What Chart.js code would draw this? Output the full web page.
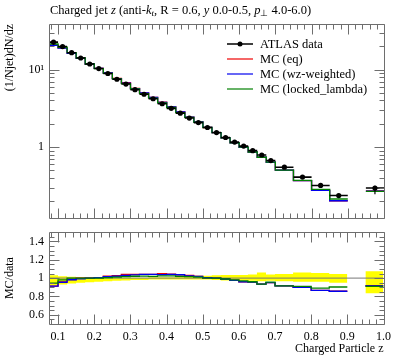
<!DOCTYPE html>
<html>
<head>
<meta charset="utf-8">
<script src="https://cdn.jsdelivr.net/npm/chart.js@4.4.0/dist/chart.umd.min.js"></script>
<style>
html, body { margin: 0; padding: 0; background: #fff; }
#wrap { position: relative; width: 397px; height: 358px; overflow: hidden; font-family: "Liberation Serif", serif; }
#top { position: absolute; left: 0; top: 0; }
#bot { position: absolute; left: 0; top: 220px; }
#title { position: absolute; left: 50px; top: 3px; font-size: 12.5px; line-height: 14px; white-space: nowrap; color: #000; }
#title sub { font-size: 9px; vertical-align: -2px; line-height: 0; }
</style>
</head>
<body>
<div id="wrap">
  <canvas id="top" width="397" height="230" style="width:397px;height:230px"></canvas>
  <canvas id="bot" width="397" height="138" style="width:397px;height:138px"></canvas>
  <div id="title">Charged jet <i>z</i> (anti-<i>k</i><sub><i>t</i></sub>, R = 0.6, <i>y</i> 0.0-0.5, <i>p</i><sub>⊥</sub> 4.0-6.0)</div>
</div>
<script>
// bins (z)
const binLo = [0.075,0.1,0.125,0.15,0.175,0.2,0.225,0.25,0.275,0.3,0.325,0.35,0.375,0.4,0.425,0.45,0.475,0.5,0.525,0.55,0.575,0.6,0.625,0.65,0.675,0.7,0.75,0.8,0.85,0.95];
const binHi = [0.1,0.125,0.15,0.175,0.2,0.225,0.25,0.275,0.3,0.325,0.35,0.375,0.4,0.425,0.45,0.475,0.5,0.525,0.55,0.575,0.6,0.625,0.65,0.675,0.7,0.75,0.8,0.85,0.9,1.0];

// ATLAS data (1/Njet) dN/dz
const atlasData = [22.6,19.8,16.5,14.1,11.8,10.3,8.9,7.5,6.5,5.5,4.8,4.2,3.62,3.16,2.74,2.37,2.07,1.79,1.54,1.33,1.16,1.03,0.90,0.79,0.67,0.55,0.41,0.32,0.237,0.296];
// data uncertainty band, relative to data
const bandLow  = [0.92,0.93,0.94,0.95,0.955,0.96,0.965,0.97,0.975,0.98,0.98,0.985,0.985,0.985,0.985,0.985,0.985,0.985,0.98,0.975,0.97,0.97,0.97,0.965,0.97,0.965,0.96,0.96,0.95,0.835];
const bandHigh = [1.03,1.02,1.015,1.01,1.01,1.01,1.005,1.005,1.005,1.005,1.005,1.01,1.01,1.01,1.015,1.02,1.025,1.025,1.03,1.035,1.035,1.035,1.04,1.06,1.04,1.045,1.06,1.055,1.045,1.075];

// MC
const mcEq     = [20.6,19.0,16.25,14.1,11.8,10.35,9.08,7.69,6.76,5.72,4.99,4.37,3.80,3.30,2.84,2.44,2.11,1.79,1.54,1.317,1.131,0.989,0.860,0.739,0.637,0.503,0.369,0.277,0.203,0.272];
const mcWz     = [20.6,18.9,16.2,14.0,11.8,10.35,9.03,7.65,6.70,5.69,4.99,4.37,3.76,3.29,2.84,2.43,2.11,1.80,1.54,1.317,1.131,0.989,0.860,0.739,0.637,0.503,0.369,0.277,0.203,0.271];
const mcLocked = [21.36,19.4,16.5,14.1,11.8,10.3,8.94,7.58,6.60,5.61,4.90,4.28,3.71,3.24,2.79,2.41,2.09,1.79,1.54,1.317,1.137,0.999,0.864,0.739,0.640,0.503,0.373,0.285,0.214,0.269];

const legendLabels = ["ATLAS data", "MC (eq)", "MC (wz-weighted)", "MC (locked_lambda)"];
const legendColors = ["#000000", "#ee0000", "#0000ee", "#008000"];

// tick marks
const xMajor = [0.1,0.2,0.3,0.4,0.5,0.6,0.7,0.8,0.9,1.0];
const xMinor = [];
for (let k = 4; k < 50; k++) if (k % 5 !== 0) xMinor.push(k / 50);
const yMainMajor = [1, 10];
const yMainMinor = [0.2,0.3,0.4,0.5,0.6,0.7,0.8,0.9,2,3,4,5,6,7,8,9,20,30];
const yRatioMajor = [0.6,0.8,1,1.2,1.4];
const yRatioMinor = [0.55,0.65,0.7,0.75,0.85,0.9,0.95,1.05,1.1,1.15,1.25,1.3,1.35,1.45];

const FONT = { family: "'Liberation Serif', serif", size: 12 };

// step histogram points, broken where bins are not adjacent
function histPoints(vals) {
  const pts = [];
  for (let i = 0; i < vals.length; i++) {
    if (i > 0 && binHi[i - 1] !== binLo[i]) pts.push({ x: binHi[i - 1], y: null });
    pts.push({ x: binLo[i], y: vals[i] }, { x: binHi[i], y: vals[i] });
  }
  return pts;
}
function xBars(vals) {
  const pts = [];
  vals.forEach((v, i) => pts.push({ x: binLo[i], y: v }, { x: binHi[i], y: v }, { x: binHi[i], y: null }));
  return pts;
}
function yBars(vals) {
  const pts = [];
  vals.forEach((v, i) => {
    const c = (binLo[i] + binHi[i]) / 2;
    pts.push({ x: c, y: v * bandLow[i] }, { x: c, y: v * bandHigh[i] }, { x: c, y: null });
  });
  return pts;
}
const centers = atlasData.map((v, i) => ({ x: (binLo[i] + binHi[i]) / 2, y: v }));
const ratio = mc => mc.map((v, i) => v / atlasData[i]);

const frame = {
  id: 'frame',
  afterDatasetsDraw(chart, args, o) {
    const { ctx, chartArea: a } = chart;
    const sx = chart.scales.x, sy = chart.scales.y;
    const L = Math.round(a.left) + 0.5, R = Math.round(a.right) + 0.5;
    const T = Math.round(a.top) + 0.5, B = Math.round(a.bottom) + 0.5;
    ctx.save();
    ctx.strokeStyle = '#6e6e6e';
    ctx.lineWidth = 1;
    ctx.beginPath();
    ctx.rect(L, T, R - L, B - T);
    const mark = (list, len, horiz) => list.forEach(v => {
      if (horiz) {
        const p = Math.round(sx.getPixelForValue(v)) + 0.5;
        ctx.moveTo(p, T); ctx.lineTo(p, T + len);
        ctx.moveTo(p, B); ctx.lineTo(p, B - len);
      } else {
        const p = Math.round(sy.getPixelForValue(v)) + 0.5;
        ctx.moveTo(L, p); ctx.lineTo(L + len, p);
        ctx.moveTo(R, p); ctx.lineTo(R - len, p);
      }
    });
    mark(o.xMajor, 10, true); mark(o.xMinor, 5, true);
    mark(o.yMajor, 10, false); mark(o.yMinor, 5, false);
    ctx.stroke();
    ctx.restore();
  }
};

const legendBox = {
  id: 'legendBox',
  afterDraw(chart, args, o) {
    if (!o.show) return;
    const ctx = chart.ctx;
    ctx.save();
    ctx.font = "12.5px 'Liberation Serif', serif";
    ctx.textBaseline = 'middle';
    legendLabels.forEach((lab, i) => {
      const y = o.y + i * o.step;
      ctx.strokeStyle = legendColors[i];
      ctx.lineWidth = i === 0 ? 1.5 : 1.2;
      ctx.beginPath(); ctx.moveTo(o.x, y); ctx.lineTo(o.x + 26, y); ctx.stroke();
      if (i === 0) {
        ctx.fillStyle = '#000';
        ctx.beginPath(); ctx.arc(o.x + 13, y, 2.5, 0, 2 * Math.PI); ctx.fill();
      }
      ctx.fillStyle = '#000';
      ctx.fillText(lab, o.x + 33, y + 0.5);
    });
    ctx.restore();
  }
};

const line = (data, color, width) => ({
  data, borderColor: color, borderWidth: width, pointRadius: 0, fill: false, spanGaps: false, tension: 0
});

const noGrid = { display: false, drawTicks: false, tickLength: 0 };

// main panel
new Chart(document.getElementById('top'), {
  type: 'line',
  data: {
    datasets: [
      { data: centers, showLine: false, pointRadius: 2.6, pointBackgroundColor: '#000', pointBorderWidth: 0 },
      line(xBars(atlasData), '#000', 1.6),
      line(yBars(atlasData), '#000', 1.2),
      line(histPoints(mcLocked), legendColors[3], 1.3),
      line(histPoints(mcWz), legendColors[2], 1.3),
      line(histPoints(mcEq), legendColors[1], 1.3)
    ]
  },
  options: {
    responsive: false,
    animation: false,
    events: [],
    layout: { padding: { top: 24, right: 13, bottom: 6, left: 0 } },
    plugins: {
      legend: { display: false },
      tooltip: { enabled: false },
      frame: { xMajor, xMinor, yMajor: yMainMajor, yMinor: yMainMinor },
      legendBox: { show: true, x: 227, y: 44, step: 15 }
    },
    scales: {
      x: { type: 'linear', min: 0.075, max: 1.0, display: false },
      y: {
        type: 'logarithmic', min: 0.1224, max: 38.7,
        afterFit: s => { s.width = 49; },
        afterBuildTicks: s => { s.ticks = yMainMajor.map(v => ({ value: v })); },
        grid: noGrid,
        border: { display: false },
        ticks: {
          autoSkip: false, padding: 5, color: '#000', font: FONT,
          callback: v => (v === 10 ? '10\u00b9' : v === 1 ? '1' : '')
        },
        title: { display: true, text: '(1/Njet)dN/dz', align: 'end', color: '#000', font: FONT, padding: { top: 3, bottom: 0 } }
      }
    }
  },
  plugins: [frame, legendBox]
});

// ratio panel
new Chart(document.getElementById('bot'), {
  type: 'line',
  data: {
    datasets: [
      line(histPoints(ratio(mcLocked)), legendColors[3], 1.3),
      line(histPoints(ratio(mcWz)), legendColors[2], 1.3),
      line(histPoints(ratio(mcEq)), legendColors[1], 1.3),
      line([{ x: 0.075, y: 1 }, { x: 1.0, y: 1 }], '#777', 1),
      { data: histPoints(bandHigh), borderWidth: 0, pointRadius: 0, spanGaps: false, backgroundColor: '#ffff00', fill: '+1' },
      { data: histPoints(bandLow), borderWidth: 0, pointRadius: 0, spanGaps: false, fill: false }
    ]
  },
  options: {
    responsive: false,
    animation: false,
    events: [],
    layout: { padding: { top: 4, right: 13, bottom: 0, left: 0 } },
    plugins: {
      legend: { display: false },
      tooltip: { enabled: false },
      frame: { xMajor, xMinor, yMajor: yRatioMajor, yMinor: yRatioMinor },
      legendBox: { show: false }
    },
    scales: {
      x: {
        type: 'linear', min: 0.075, max: 1.0,
        afterFit: s => { s.height = 34; },
        afterBuildTicks: s => { s.ticks = xMajor.map(v => ({ value: v })); },
        grid: noGrid,
        border: { display: false },
        ticks: { autoSkip: false, maxRotation: 0, padding: 6, color: '#000', font: FONT, callback: v => v.toFixed(1) },
        title: { display: true, text: 'Charged Particle z', align: 'end', color: '#000', font: FONT, padding: { top: 0, bottom: 2 } }
      },
      y: {
        type: 'linear', min: 0.5, max: 1.5,
        afterFit: s => { s.width = 49; },
        afterBuildTicks: s => { s.ticks = yRatioMajor.map(v => ({ value: v })); },
        grid: noGrid,
        border: { display: false },
        ticks: { autoSkip: false, padding: 5, color: '#000', font: FONT, callback: v => (v === 1 ? '1' : String(v)) },
        title: { display: true, text: 'MC/data', align: 'center', color: '#000', font: FONT, padding: { top: 3, bottom: 0 } }
      }
    }
  },
  plugins: [frame, legendBox]
});
</script>
</body>
</html>
